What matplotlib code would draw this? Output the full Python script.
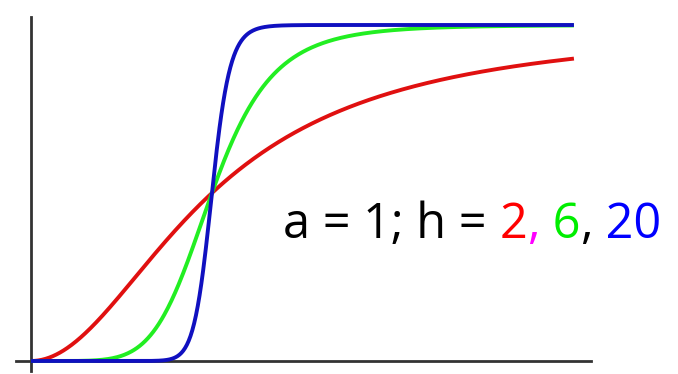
import numpy as np
import matplotlib
matplotlib.use("Agg")
import matplotlib.pyplot as plt

# Hill function parameters
a = 1.0
h_values = [2, 6, 20]
curve_colors = ["#e01010", "#22ee22", "#1010c0"]
x_max = 3.0

fig = plt.figure(figsize=(6.78, 3.74), dpi=100)
ax = fig.add_axes([0, 0, 1, 1])
ax.set_xlim(-0.171, 3.575)
ax.set_ylim(-0.0387, 1.0744)

x = np.linspace(0, x_max, 600)
for h, c in zip(h_values, curve_colors):
    y = x**h / (a**h + x**h)
    ax.plot(x, y, color=c, lw=2.8, solid_capstyle="butt", zorder=3)

# bare axes: a vertical and a horizontal line through the origin
for side in ("top", "right"):
    ax.spines[side].set_visible(False)
ax.spines["left"].set_position(("data", 0))
ax.spines["bottom"].set_position(("data", 0))
ax.spines["left"].set_bounds(-0.03, 1.024)
ax.spines["bottom"].set_bounds(-0.083, 3.094)
for side in ("left", "bottom"):
    ax.spines[side].set_color("#333333")
    ax.spines[side].set_linewidth(2.0)
    ax.spines[side].set_zorder(2)
ax.set_xticks([])
ax.set_yticks([])

# multicoloured label, built piece by piece
pieces = [("a = 1; h = ", "black"), ("2", "red"), (",", "magenta"),
          (" 6", "#00ee00"), (",", "black"), (" 20", "blue")]
fs = 35
fam = "Open Sans"
prev = ax.text(283 / 678, 1 - 238 / 374, pieces[0][0], transform=ax.transAxes,
               fontsize=fs, color=pieces[0][1], ha="left", va="baseline",
               family=fam)
for txt, col in pieces[1:]:
    prev = ax.annotate(txt, xy=(1, 0), xycoords=prev, fontsize=fs, color=col,
                       ha="left", va="bottom", family=fam)

fig.savefig("out.png", dpi=100)
